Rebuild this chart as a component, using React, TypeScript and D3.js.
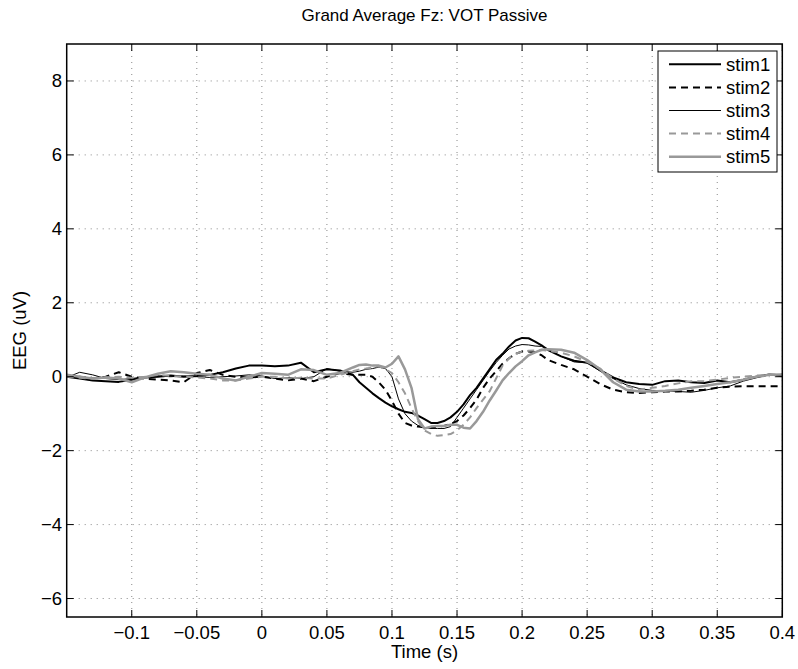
import * as d3 from "d3";

// sample times (s)
const times = [
  -0.15, -0.14, -0.13, -0.12, -0.11, -0.1, -0.09, -0.08, -0.07, -0.06, -0.05, -0.04,
  -0.03, -0.02, -0.01, 0, 0.01, 0.02, 0.03, 0.04, 0.05, 0.06, 0.07,
  0.075, 0.08, 0.085, 0.09, 0.095, 0.1, 0.105, 0.11, 0.115, 0.12, 0.125, 0.13, 0.135,
  0.14, 0.145, 0.15, 0.155, 0.16, 0.165, 0.17, 0.175, 0.18, 0.185, 0.19, 0.195, 0.2,
  0.205, 0.21, 0.215, 0.22,
  0.23, 0.24, 0.25, 0.26, 0.27, 0.28, 0.29, 0.3, 0.31, 0.32, 0.33, 0.34, 0.35, 0.36,
  0.37, 0.38, 0.39, 0.4,
];

const stim1 = [
  0.0, -0.05, -0.1, -0.12, -0.14, -0.08, -0.02, 0.0, 0.03, 0.0, 0.02, 0.05,
  0.12, 0.22, 0.3, 0.3, 0.28, 0.3, 0.38, 0.12, 0.2, 0.17, 0.05,
  -0.15, -0.3, -0.45, -0.58, -0.7, -0.8, -0.88, -0.95, -0.98, -1.05, -1.15, -1.25, -1.25,
  -1.2, -1.1, -0.95, -0.75, -0.5, -0.3, -0.05, 0.2, 0.45, 0.62, 0.82, 0.98, 1.05,
  1.04, 0.95, 0.85, 0.72,
  0.55, 0.43, 0.38, 0.18, -0.02, -0.15, -0.2, -0.22, -0.12, -0.1, -0.15, -0.17, -0.1, -0.15,
  -0.08, 0.0, 0.06, 0.03,
];

const stim2 = [
  0.02, 0.0, -0.05, 0.0, 0.12, 0.0, -0.05, -0.08, -0.1, -0.15, 0.1, 0.18,
  0.05, 0.0, -0.02, 0.0, -0.05, -0.1, -0.05, -0.12, 0.0, 0.1, 0.05,
  0.05, 0.05, 0.0, -0.16, -0.35, -0.65, -1.0, -1.25, -1.32, -1.35, -1.37, -1.37, -1.35,
  -1.33, -1.28, -1.2, -1.05, -0.85, -0.62, -0.3, -0.05, 0.15, 0.35, 0.5, 0.62, 0.68,
  0.68, 0.66, 0.58, 0.45,
  0.32, 0.2, 0.0, -0.2, -0.35, -0.42, -0.44, -0.42, -0.4, -0.4, -0.38, -0.35, -0.3, -0.27,
  -0.26, -0.26, -0.26, -0.26,
];

const stim3 = [
  -0.02, 0.12, 0.05, -0.05, -0.08, -0.05, 0.0, 0.02, 0.0, 0.02, 0.0, -0.02,
  0.0, 0.02, 0.05, 0.02, -0.05, -0.03, -0.05, 0.0, 0.22, 0.15, 0.12,
  0.15, 0.2, 0.22, 0.26, 0.22, 0.0, -0.6, -1.0, -1.2, -1.32, -1.38, -1.4, -1.4,
  -1.4, -1.35, -1.1, -0.85, -0.6, -0.35, -0.1, 0.15, 0.38, 0.58, 0.75, 0.83, 0.87,
  0.86, 0.83, 0.82, 0.75,
  0.55, 0.4, 0.38, 0.15, -0.05, -0.22, -0.32, -0.37, -0.38, -0.4, -0.42, -0.37, -0.3, -0.25,
  -0.12, -0.03, 0.05, 0.02,
];

const stim4 = [
  0.0, -0.03, -0.05, -0.02, 0.0, -0.03, 0.0, 0.05, 0.02, 0.0, -0.02, -0.05,
  -0.1, -0.1, -0.05, 0.0, 0.0, -0.05, -0.03, -0.05, -0.05, 0.05, 0.15,
  0.2, 0.22, 0.25, 0.28, 0.2, 0.1, -0.15, -0.45, -0.85, -1.2, -1.45, -1.55, -1.6,
  -1.58, -1.55, -1.45, -1.3, -1.1, -0.85, -0.62, -0.4, -0.05, 0.3, 0.5, 0.62, 0.68,
  0.7, 0.71, 0.72, 0.7,
  0.65, 0.55, 0.4, 0.22, -0.05, -0.25, -0.35, -0.3, -0.25, -0.18, -0.12, -0.12, -0.08, -0.03,
  0.0, 0.03, 0.05, 0.06,
];

const stim5 = [
  0.05, 0.0, -0.05, -0.02, -0.05, -0.15, -0.02, 0.08, 0.15, 0.12, 0.08, 0.05,
  -0.05, -0.1, 0.0, 0.1, 0.08, 0.05, 0.2, 0.18, 0.05, 0.1, 0.25,
  0.32, 0.33, 0.3, 0.3, 0.25, 0.35, 0.55, 0.2, -0.3, -1.15, -1.4, -1.35, -1.33,
  -1.33, -1.3, -1.3, -1.38, -1.4, -1.2, -0.95, -0.65, -0.38, -0.1, 0.1, 0.28, 0.42,
  0.58, 0.66, 0.73, 0.74,
  0.73, 0.65, 0.45, 0.2, -0.15, -0.35, -0.4, -0.4, -0.38, -0.35, -0.3, -0.25, -0.2, -0.15,
  -0.08, 0.0, 0.05, 0.06,
];

const seriesNames = ["stim1", "stim2", "stim3", "stim4", "stim5"];
const seriesValues = [stim1, stim2, stim3, stim4, stim5];
const seriesColors = ["#000000", "#000000", "#000000", "#999999", "#999999"];
const seriesWidths = [2, 2, 1, 2, 2.5];
const seriesDashes = ["", "7,5", "", "7,5", ""];

const xTicks = [-0.1, -0.05, 0, 0.05, 0.1, 0.15, 0.2, 0.25, 0.3, 0.35, 0.4];
const yTicks = [-6, -4, -2, 0, 2, 4, 6, 8];

const W = 798;
const H = 669;
const L = 66.7, R = 782.3, T = 44, B = 617;
const FONT = "'Liberation Sans', Arial, Helvetica, sans-serif";

const fmt = (v: number) => {
  const s = String(Math.round(v * 100) / 100);
  return s.replace("-", "\u2212");
};

export default function App() {
  const x = d3.scaleLinear().domain([-0.15, 0.4]).range([L, R]);
  const y = d3.scaleLinear().domain([-6.5, 9]).range([B, T]);
  const line = d3
    .line<[number, number]>()
    .x((d) => x(d[0]))
    .y((d) => y(d[1]));

  const legX = 658, legY = 51, legW = 119, legH = 121;

  return (
    <svg
      width={W}
      height={H}
      style={{ position: "absolute", left: 0, top: 0, background: "#fff" }}
      fontFamily={FONT}
    >
      <defs>
        <clipPath id="plot">
          <rect x={L} y={T} width={R - L} height={B - T} />
        </clipPath>
      </defs>
      <rect x={0} y={0} width={W} height={H} fill="#fff" />

      {/* grid */}
      {xTicks.map((t) => (
        <line key={"gx" + t} x1={x(t)} x2={x(t)} y1={T} y2={B}
          stroke="#888" strokeWidth={1} strokeDasharray="1,5" />
      ))}
      {yTicks.map((t) => (
        <line key={"gy" + t} x1={L} x2={R} y1={y(t)} y2={y(t)}
          stroke="#888" strokeWidth={1} strokeDasharray="1,5" />
      ))}

      {/* traces */}
      <g clipPath="url(#plot)">
        {seriesValues.map((vals, i) => (
          <path
            key={seriesNames[i]}
            d={line(times.map((t, j) => [t, vals[j]] as [number, number])) || ""}
            fill="none"
            stroke={seriesColors[i]}
            strokeWidth={seriesWidths[i]}
            strokeDasharray={seriesDashes[i] || undefined}
            strokeLinejoin="round"
          />
        ))}
      </g>

      {/* box + ticks */}
      <rect x={L} y={T} width={R - L} height={B - T} fill="none" stroke="#000" strokeWidth={1.5} />
      {xTicks.map((t) => (
        <g key={"tx" + t}>
          <line x1={x(t)} x2={x(t)} y1={B} y2={B - 7} stroke="#000" />
          <line x1={x(t)} x2={x(t)} y1={T} y2={T + 7} stroke="#000" />
          <text x={x(t)} y={639} textAnchor="middle" fontSize={18.5}>{fmt(t)}</text>
        </g>
      ))}
      {yTicks.map((t) => (
        <g key={"ty" + t}>
          <line x1={L} x2={L + 7} y1={y(t)} y2={y(t)} stroke="#000" />
          <line x1={R} x2={R - 7} y1={y(t)} y2={y(t)} stroke="#000" />
          <text x={62} y={y(t)} dy="0.35em" textAnchor="end" fontSize={18.5}>{fmt(t)}</text>
        </g>
      ))}

      {/* labels */}
      <text x={(L + R) / 2} y={21} textAnchor="middle" fontSize={17}>
        Grand Average Fz: VOT Passive
      </text>
      <text x={(L + R) / 2} y={658} textAnchor="middle" fontSize={18.5}>Time (s)</text>
      <text
        transform={`translate(26,${(T + B) / 2}) rotate(-90)`}
        textAnchor="middle"
        fontSize={18.5}
      >
        EEG (uV)
      </text>

      {/* legend */}
      <rect x={legX} y={legY} width={legW} height={legH} fill="#fff" stroke="#000" strokeWidth={1} />
      {seriesNames.map((n, i) => {
        const ly = 64.3 + i * 23.1;
        return (
          <g key={"lg" + n}>
            <line x1={669} x2={721} y1={ly} y2={ly}
              stroke={seriesColors[i]} strokeWidth={seriesWidths[i]}
              strokeDasharray={seriesDashes[i] || undefined} />
            <text x={726} y={ly} dy="0.35em" fontSize={18.5}>{n}</text>
          </g>
        );
      })}
    </svg>
  );
}
